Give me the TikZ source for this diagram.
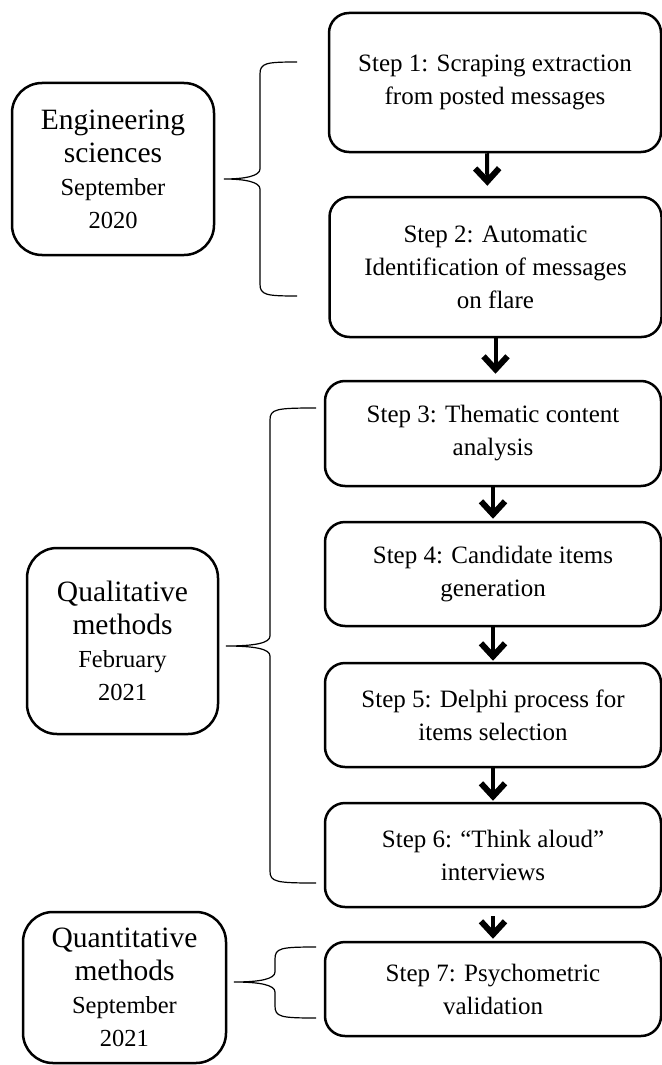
\documentclass[tikz,border=0pt]{standalone}
\usepackage{fontspec}
\setmainfont{Liberation Serif}
\usetikzlibrary{arrows.meta}

% curly brace: end x, spine x, tip x, top y, tip y, bottom y
\newcommand{\groupbrace}[6]{%
  \draw[bracepath] (#1,#4) .. controls (#2+6,#4) and (#2,#4+1) .. (#2,#4+12)
    -- (#2,#5-10) .. controls (#2,#5-3) and (#2-15,#5) .. (#3,#5)
    .. controls (#2-15,#5) and (#2,#5+3) .. (#2,#5+10)
    -- (#2,#6-12) .. controls (#2,#6-1) and (#2+6,#6) .. (#1,#6);}

\begin{document}
\begin{tikzpicture}[x=0.5pt,y=-0.5pt,
    stepbox/.style={draw,line width=1.25pt,rounded corners=10pt,align=center,
      minimum width=168pt,font=\fontsize{12.5}{16.5}\selectfont},
    phasebox/.style={draw,line width=1.25pt,rounded corners=15pt,align=center,
      font=\fontsize{14.75}{16.5}\selectfont},
    flow/.style={line width=2pt,-{Straight Barb[length=6.5pt,width=12pt,line width=3pt]}},
    bracepath/.style={line width=0.6pt}]
	      % page frame
	      \useasboundingbox (0,0) rectangle (662,1065);
	      \def\datefont{\fontsize{12.25}{14}\selectfont}

	      % Steps
	      \node[stepbox,minimum width=166pt,minimum height=69.5pt] (s1) at (495,82.5)
	        {Step 1: Scraping extraction\\from posted messages};
	      \node[stepbox,minimum width=166pt,minimum height=70pt] (s2) at (495.5,267)
	        {Step 2: Automatic\\Identification of messages\\on flare};
	      \node[stepbox,minimum height=52.5pt] (s3) at (493,433.5)
	        {Step 3: Thematic content\\analysis};
	      \node[stepbox,minimum height=52pt] (s4) at (493,574)
	        {Step 4: Candidate items\\generation};
	      \node[stepbox,minimum height=52pt] (s5) at (493,715)
	        {Step 5: Delphi process for\\items selection};
	      \node[stepbox,minimum height=52pt] (s6) at (493,855)
	        {Step 6: “Think aloud”\\interviews};
	      \node[stepbox,minimum height=47pt] (s7) at (493,989)
	        {Step 7: Psychometric\\validation};

	      % Phases
	      \node[phasebox,minimum width=101pt,minimum height=86pt] (eng) at (113,169)
	        {Engineering\\sciences\\{\datefont September}\\{\datefont 2020}};
	      \node[phasebox,minimum width=95.5pt,minimum height=93pt] (qual) at (122.5,641)
	        {Qualitative\\methods\\{\datefont February}\\{\datefont 2021}};
	      \node[phasebox,minimum width=101.5pt,minimum height=75.5pt] (quan) at (124.5,987.5)
	        {Quantitative\\methods\\{\datefont September}\\{\datefont 2021}};

	      % Arrows between steps
	      \draw[flow,shorten >=5pt] ([xshift=-4pt]s1.south) -- ([xshift=-4pt]s2.north);
	      \draw[flow,shorten >=3pt] (s2.south) -- (s2.south |- s3.north);
	      \draw[flow,shorten >=1pt] (s3) -- (s4);
	      \draw[flow,shorten >=0.5pt] (s4) -- (s5);
	      \draw[flow,shorten >=0.5pt] (s5) -- (s6);
	      \draw[flow,shorten <=4pt,shorten >=1pt] (s6) -- (s7);

	      % Braces
	      \groupbrace{297}{260}{224}{62}{179}{296}
	      \groupbrace{316}{270}{226}{408}{646}{883}
	      \groupbrace{316}{275}{234}{947}{982}{1018}
      \end{tikzpicture}
\end{document}
